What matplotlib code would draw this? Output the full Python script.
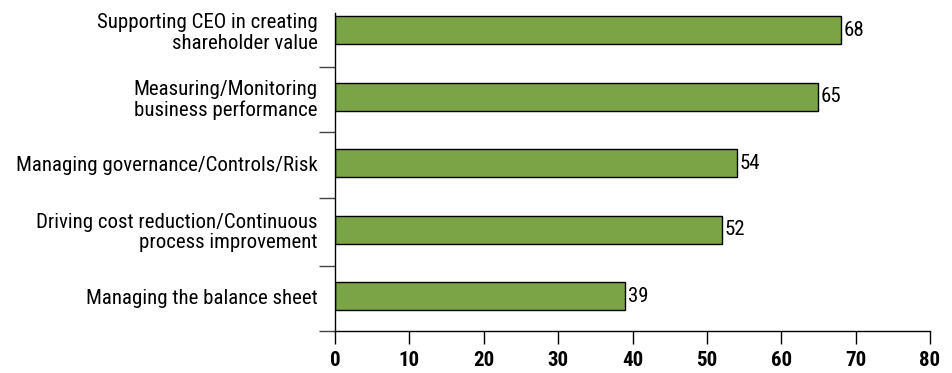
import matplotlib
matplotlib.use('Agg')
import matplotlib.pyplot as plt

plt.rcParams['font.family'] = ['Roboto Condensed', 'DejaVu Sans']

categories = ['Supporting CEO in creating\nshareholder value',
              'Measuring/Monitoring\nbusiness performance',
              'Managing governance/Controls/Risk',
              'Driving cost reduction/Continuous\nprocess improvement',
              'Managing the balance sheet']
values = [68, 65, 54, 52, 39]
xticks = [0, 10, 20, 30, 40, 50, 60, 70, 80]

fig = plt.figure(figsize=(9.53, 3.73), dpi=100)
ax = fig.add_axes([335/953, 42/373, 595/953, 318/373])

ypos = list(range(len(categories)))
ax.barh(ypos, values, height=0.42, color='#7ba446', edgecolor='black', linewidth=1)
for y, v in zip(ypos, values):
    ax.text(v + 0.35, y, str(v), va='center', ha='left', fontsize=15)

ax.set_xlim(0, 80)
ax.set_ylim(4.52, -0.26)
ax.set_xticks(xticks)
ax.set_xticklabels([str(t) for t in xticks], fontsize=15, fontweight='bold')
ax.set_yticks(ypos)
ax.set_yticklabels(categories, fontsize=15, linespacing=1.1)
ax.tick_params(axis='y', length=0, pad=12.5)
ax.set_yticks([0.55, 1.53, 2.52, 3.55, 4.52], minor=True)
ax.tick_params(axis='y', which='minor', length=11.5, width=1, color='#444444')
ax.tick_params(axis='x', length=9.5, width=1, pad=5)
for s in ['top', 'right']:
    ax.spines[s].set_visible(False)
ax.spines['left'].set_linewidth(1)
ax.spines['bottom'].set_linewidth(1)

fig.savefig('out.png', dpi=100)
